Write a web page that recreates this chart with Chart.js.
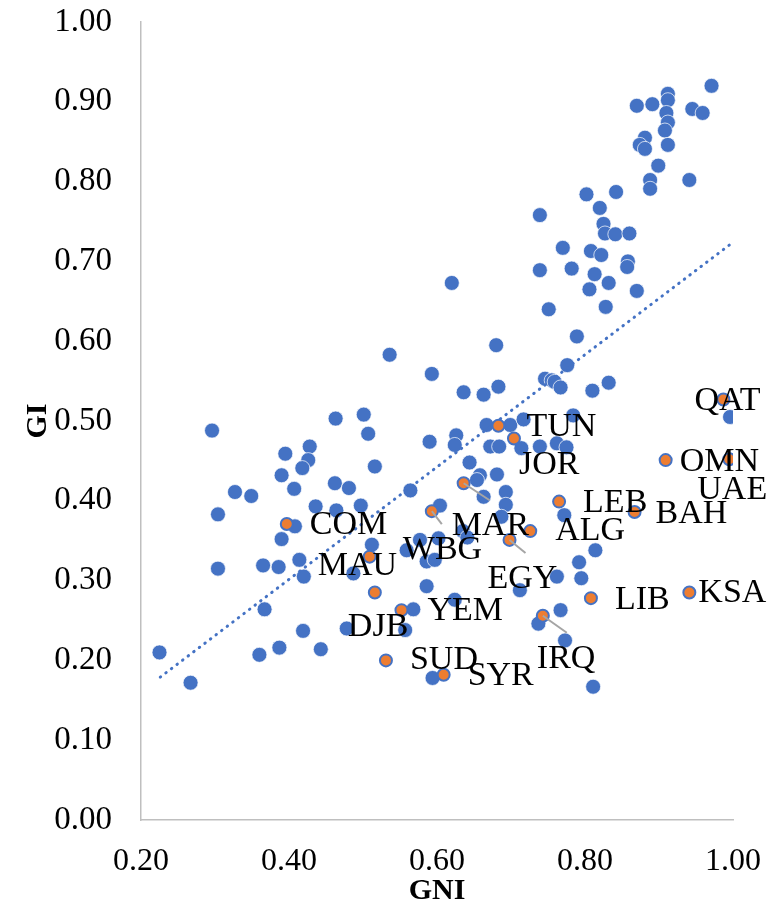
<!DOCTYPE html>
<html>
<head>
<meta charset="utf-8">
<script src="https://cdn.jsdelivr.net/npm/chart.js@4.4.1/dist/chart.umd.min.js"></script>
<style>
  body { margin: 0; background: #fff; }
  #wrap { width: 777px; height: 906px; }
</style>
</head>
<body>
<div id="wrap"><canvas id="giChart"></canvas></div>
<script>
// Ejes
const xTicks = [0.20, 0.40, 0.60, 0.80, 1.00];
const yTicks = [0.00, 0.10, 0.20, 0.30, 0.40, 0.50, 0.60, 0.70, 0.80, 0.90, 1.00];

// Países del mundo (azul)
const gniWorld = [
    0.971, 0.870, 0.891, 0.912, 0.912, 0.945, 0.959, 0.910, 0.912, 0.908,
    0.881, 0.874, 0.881, 0.912, 0.899, 0.888, 0.888, 0.941, 0.802, 0.842,
    0.820, 0.825, 0.827, 0.841, 0.860, 0.739, 0.770, 0.808, 0.822, 0.858,
    0.857, 0.782, 0.739, 0.813, 0.832, 0.806, 0.870, 0.751, 0.828, 0.620,
    0.789, 0.776, 0.746, 0.755, 0.759, 0.767, 0.810, 0.832, 0.784, 0.762,
    0.775, 0.739, 0.996, 0.772, 0.680, 0.536, 0.593, 0.636, 0.663, 0.683,
    0.667, 0.699, 0.717, 0.714, 0.590, 0.626, 0.624, 0.672, 0.684, 0.644,
    0.681, 0.658, 0.654, 0.564, 0.693, 0.663, 0.693, 0.604, 0.296, 0.463,
    0.501, 0.507, 0.395, 0.428, 0.426, 0.418, 0.390, 0.516, 0.407, 0.462,
    0.481, 0.327, 0.349, 0.436, 0.464, 0.497, 0.304, 0.408, 0.390, 0.512,
    0.487, 0.304, 0.365, 0.386, 0.414, 0.420, 0.367, 0.419, 0.478, 0.225,
    0.360, 0.387, 0.443, 0.267, 0.568, 0.557, 0.594, 0.635, 0.641, 0.687,
    0.577, 0.602, 0.559, 0.586, 0.597, 0.814, 0.792, 0.795, 0.762, 0.586,
    0.712, 0.624, 0.767, 0.737, 0.773, 0.811
];
const giWorld = [
    0.920, 0.895, 0.897, 0.910, 0.902, 0.891, 0.886, 0.886, 0.874, 0.864,
    0.855, 0.846, 0.841, 0.846, 0.820, 0.802, 0.791, 0.802, 0.784, 0.787,
    0.767, 0.747, 0.735, 0.734, 0.735, 0.758, 0.717, 0.713, 0.708, 0.700,
    0.693, 0.691, 0.689, 0.684, 0.673, 0.665, 0.663, 0.640, 0.643, 0.673,
    0.606, 0.570, 0.553, 0.551, 0.549, 0.542, 0.538, 0.548, 0.507, 0.472,
    0.467, 0.468, 0.505, 0.382, 0.595, 0.583, 0.559, 0.536, 0.533, 0.543,
    0.495, 0.495, 0.502, 0.466, 0.474, 0.482, 0.470, 0.468, 0.468, 0.448,
    0.433, 0.432, 0.426, 0.413, 0.411, 0.405, 0.395, 0.394, 0.488, 0.503,
    0.508, 0.484, 0.459, 0.468, 0.451, 0.441, 0.432, 0.443, 0.415, 0.422,
    0.416, 0.411, 0.406, 0.393, 0.388, 0.394, 0.383, 0.368, 0.352, 0.345,
    0.309, 0.315, 0.319, 0.317, 0.326, 0.305, 0.264, 0.237, 0.240, 0.210,
    0.207, 0.216, 0.214, 0.172, 0.264, 0.238, 0.178, 0.362, 0.354, 0.380,
    0.351, 0.353, 0.338, 0.324, 0.326, 0.338, 0.323, 0.303, 0.305, 0.293,
    0.288, 0.276, 0.263, 0.246, 0.225, 0.167
];

// Países árabes (naranja)
const arabCodes = ['QAT', 'OMN', 'UAE', 'LEB', 'BAH', 'KSA', 'LIB', 'ALG', 'TUN', 'JOR',
                   'COM', 'MAU', 'MAR', 'WBG', 'EGY', 'YEM', 'DJB', 'SUD', 'SYR', 'IRQ'];
const gniArab = [0.987, 0.909, 0.995, 0.765, 0.867, 0.941, 0.808, 0.726, 0.683, 0.704,
                 0.397, 0.509, 0.636, 0.593, 0.698, 0.552, 0.516, 0.531, 0.609, 0.743];
const giArab  = [0.527, 0.451, 0.452, 0.399, 0.386, 0.285, 0.278, 0.362, 0.494, 0.478,
                 0.371, 0.330, 0.422, 0.387, 0.351, 0.263, 0.285, 0.200, 0.182, 0.256];

// Línea de tendencia (extremos)
const trendGni = [0.226, 1.00];
const trendGi  = [0.179, 0.724];

const toPoints = (xs, ys) => xs.map((x, i) => ({ x: x, y: ys[i] }));

// Posición de cada etiqueta respecto a su punto (px): [dx, dy, líneaX, líneaY]
const labelPos = {
    QAT: [-29, 2], OMN: [14, 2], UAE: [-32, 31], LEB: [24, 1], BAH: [21, 2],
    KSA: [9, 1], LIB: [24, 2], ALG: [25, 0], TUN: [28, 1], JOR: [5, 27],
    COM: [23, 1], MAU: [-52, 9], MAR: [-12, 43, 26, 17], WBG: [-29, 39, 10, 13],
    EGY: [-22, 39, 16, 13], YEM: [26, 1], DJB: [-27, 35], SUD: [24, 0],
    SYR: [24, 1], IRQ: [-6, 43, 24, 17]
};

const labelPlugin = {
    id: 'arabLabels',
    afterDatasetsDraw(chart) {
        const { ctx } = chart;
        const meta = chart.getDatasetMeta(0);
        ctx.save();
        // líneas guía
        ctx.strokeStyle = '#A5A5A5';
        ctx.lineWidth = 2;
        meta.data.forEach((pt, i) => {
            const p = labelPos[arabCodes[i]];
            if (p.length > 2) {
                ctx.beginPath();
                ctx.moveTo(pt.x, pt.y);
                ctx.lineTo(pt.x + p[2], pt.y + p[3]);
                ctx.stroke();
            }
        });
        ctx.font = '34px "Liberation Serif"';
        ctx.fillStyle = '#000';
        ctx.textAlign = 'left';
        ctx.textBaseline = 'middle';
        meta.data.forEach((pt, i) => {
            const p = labelPos[arabCodes[i]];
            ctx.fillText(arabCodes[i], pt.x + p[0], pt.y + p[1]);
        });
        ctx.restore();
    }
};

const ctx = document.getElementById('giChart').getContext('2d');
new Chart(ctx, {
    type: 'scatter',
    data: {
        datasets: [
            {
                label: 'Arab',
                data: toPoints(gniArab, giArab),
                backgroundColor: '#ED7D31',
                borderColor: '#4472C4',
                borderWidth: 2,
                pointRadius: 6
            },
            {
                label: 'Trend',
                type: 'line',
                data: toPoints(trendGni, trendGi),
                borderColor: '#4472C4',
                borderWidth: 3,
                borderDash: [0.5, 6.5],
                borderCapStyle: 'round',
                pointRadius: 0,
                fill: false
            },
            {
                label: 'World',
                data: toPoints(gniWorld, giWorld),
                backgroundColor: '#4472C4',
                borderColor: 'rgba(255,255,255,0.7)',
                borderWidth: 1,
                pointRadius: 7.5
            }
        ]
    },
    options: {
        responsive: true,
        maintainAspectRatio: false,
        animation: false,
        layout: { padding: { left: 0, right: 44, top: 22, bottom: 0 } },
        plugins: { legend: { display: false }, tooltip: { enabled: false } },
        scales: {
            x: {
                type: 'linear',
                min: 0.2, max: 1.0,
                afterBuildTicks: s => { s.ticks = xTicks.map(v => ({ value: v })); },
                afterFit: s => { s.height = 86; s.paddingLeft = 0; s.paddingRight = 0; },
                grid: { display: false, drawTicks: false },
                border: { display: true, color: '#BFBFBF', width: 1.5 },
                ticks: {
                    padding: 22,
                    color: '#000',
                    font: { family: 'Liberation Serif', size: 32 },
                    callback: v => v.toFixed(2)
                },
                title: {
                    display: true, text: 'GNI', color: '#000',
                    padding: { top: 4, bottom: 0 },
                    font: { family: 'Liberation Serif', size: 30, weight: 'bold', lineHeight: 1 }
                }
            },
            y: {
                type: 'linear',
                min: 0, max: 1.0,
                afterBuildTicks: s => { s.ticks = yTicks.map(v => ({ value: v })); },
                afterFit: s => { s.width = 141; s.paddingTop = 0; s.paddingBottom = 0; },
                grid: { display: false, drawTicks: false },
                border: { display: true, color: '#BFBFBF', width: 1.5 },
                ticks: {
                    padding: 29,
                    color: '#000',
                    font: { family: 'Liberation Serif', size: 33 },
                    callback: v => v.toFixed(2)
                },
                title: {
                    display: true, text: 'GI', color: '#000',
                    padding: { top: 23, bottom: 0 },
                    font: { family: 'Liberation Serif', size: 30, weight: 'bold', lineHeight: 1 }
                }
            }
        }
    },
    plugins: [labelPlugin]
});
</script>
</body>
</html>
